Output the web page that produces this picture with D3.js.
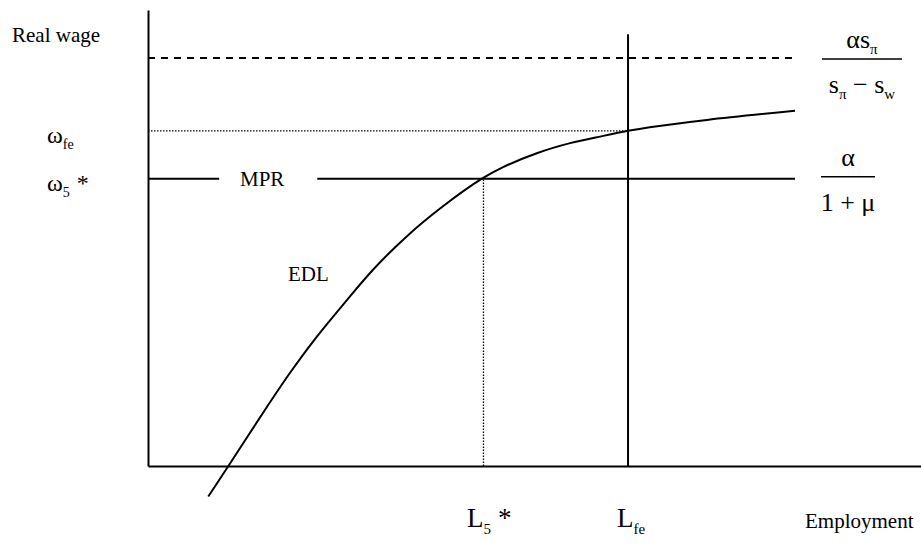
<!DOCTYPE html>
<html>
<head>
<meta charset="utf-8">
<script src="https://cdn.jsdelivr.net/npm/d3@7"></script>
<style>
  body { margin: 0; background: #fff; }
  svg text { font-family: "Liberation Serif", "Times New Roman", "DejaVu Serif", serif; fill: #000; }
</style>
</head>
<body>
<div id="graph"></div>
<script>
// EDL curve (employment, real wage)
var edlEmployment = [7.8, 10.4, 15.4, 18.4, 21.4, 25.3, 29.2, 33.5, 38.2, 43.2, 46.0, 50.3, 54.6, 58.9, 62.1, 64.9, 72.3, 83.7];
var edlWage = [-6.7, 0, 13.0, 20.5, 27.4, 35.5, 43.2, 50.4, 57.0, 63.0, 65.6, 68.6, 70.8, 72.4, 73.5, 74.3, 75.9, 77.9];

// levels and marked points
var wageCeiling = 89.5;   // alpha s_pi / (s_pi - s_w)
var wageFE = 73.5;        // omega_fe
var wageStar = 63.0;      // omega_5 *  (MPR)
var employStar = 43.4;    // L_5 *
var employFE = 62.1;      // L_fe
var lineEnd = 83.7;
var mprGap = [9.2, 21.9];

var w = 921, h = 543;

var svg = d3.select('#graph').append('svg')
  .attr('width', w)
  .attr('height', h)
  .attr('font-family', '"Liberation Serif", "Times New Roman", serif');

var x = d3.scaleLinear().domain([0, 100]).range([148, 921]);
var y = d3.scaleLinear().domain([0, 100]).range([466, 10]);

// axes: only the domain lines, no ticks
var xAxis = d3.axisBottom(x).tickValues([]).tickSizeOuter(0);
var yAxis = d3.axisLeft(y).tickValues([]).tickSizeOuter(0);

svg.append('g')
  .attr('transform', 'translate(0,' + y(0) + ')')
  .call(xAxis)
  .select('.domain').attr('stroke', '#000').attr('stroke-width', 2);

svg.append('g')
  .attr('transform', 'translate(' + x(0) + ',0)')
  .call(yAxis)
  .select('.domain').attr('stroke', '#000').attr('stroke-width', 2);

function hline(x0, x1, yy, width, dash) {
  svg.append('line')
    .attr('x1', x(x0)).attr('x2', x(x1))
    .attr('y1', y(yy)).attr('y2', y(yy))
    .attr('stroke', '#000')
    .attr('stroke-width', width)
    .attr('stroke-dasharray', dash || null);
}

function vline(xx, y0, y1, width, dash) {
  svg.append('line')
    .attr('x1', x(xx)).attr('x2', x(xx))
    .attr('y1', y(y0)).attr('y2', y(y1))
    .attr('stroke', '#000')
    .attr('stroke-width', width)
    .attr('stroke-dasharray', dash || null);
}

// dashed ceiling
hline(0, lineEnd, wageCeiling, 2, '7,6');
// dotted full-employment wage
hline(0, employFE, wageFE, 1.3, '1.5,1.5');
// MPR line with a gap for the label
hline(0, mprGap[0], wageStar, 2);
hline(mprGap[1], lineEnd, wageStar, 2);
// dotted L5*
vline(employStar, 0, wageStar, 1.3, '1.5,1.5');
// L_fe vertical
vline(employFE, 0, 94.7, 2);

// EDL curve
var edl = edlEmployment.map(function(d, i) { return [d, edlWage[i]]; });
var line = d3.line()
  .x(function(d) { return x(d[0]); })
  .y(function(d) { return y(d[1]); })
  .curve(d3.curveCatmullRom.alpha(0.5));

svg.append('path')
  .datum(edl)
  .attr('d', line)
  .attr('fill', 'none')
  .attr('stroke', '#000')
  .attr('stroke-width', 2);

// plain labels
svg.append('text').attr('x', 12).attr('y', 42).attr('font-size', 21).text('Real wage');
svg.append('text').attr('x', 805).attr('y', 528).attr('font-size', 21).text('Employment');
svg.append('text').attr('x', 240).attr('y', y(wageStar) + 7).attr('font-size', 21).text('MPR');
svg.append('text').attr('x', 288).attr('y', 281).attr('font-size', 21).text('EDL');

// symbol with subscript, optional trailing star
function sym(xx, yy, main, sub, size, subSize, star) {
  var t = svg.append('text').attr('x', xx).attr('y', yy).attr('font-size', size);
  t.append('tspan').text(main);
  t.append('tspan').attr('font-size', subSize).attr('dy', size * 0.25).text(sub);
  if (star) {
    t.append('tspan').attr('dy', -size * 0.25).attr('dx', 7).text('*');
  }
  return t;
}

sym(47, y(wageFE) + 12, '\u03C9', 'fe', 24, 14);
sym(47, y(wageStar) + 12, '\u03C9', '5', 24, 14, true);
sym(467, 527, 'L', '5', 27, 15, true);
sym(617, 527, 'L', 'fe', 27, 15);

// fractions on the right
function frac(xl, xr, yy, numParts, denParts) {
  var cx = (xl + xr) / 2;
  svg.append('line')
    .attr('x1', xl).attr('x2', xr)
    .attr('y1', yy).attr('y2', yy)
    .attr('stroke', '#000').attr('stroke-width', 1.5);
  [[numParts, yy - 11], [denParts, yy + 34]].forEach(function(p) {
    var t = svg.append('text').attr('x', cx).attr('y', p[1])
      .attr('text-anchor', 'middle').attr('font-size', 26);
    p[0].forEach(function(part) {
      var s = t.append('tspan').text(part.t);
      if (part.sub) s.attr('font-size', 15).attr('dy', 6);
      if (part.up) s.attr('dy', -6);
    });
  });
}

frac(822, 902, y(wageCeiling) + 1,
  [{ t: '\u03B1s' }, { t: '\u03C0', sub: true }],
  [{ t: 's' }, { t: '\u03C0', sub: true }, { t: ' \u2212 s', up: true }, { t: 'w', sub: true }]);

frac(821, 875, y(wageStar) - 2,
  [{ t: '\u03B1' }],
  [{ t: '1 + \u03BC' }]);
</script>
</body>
</html>
